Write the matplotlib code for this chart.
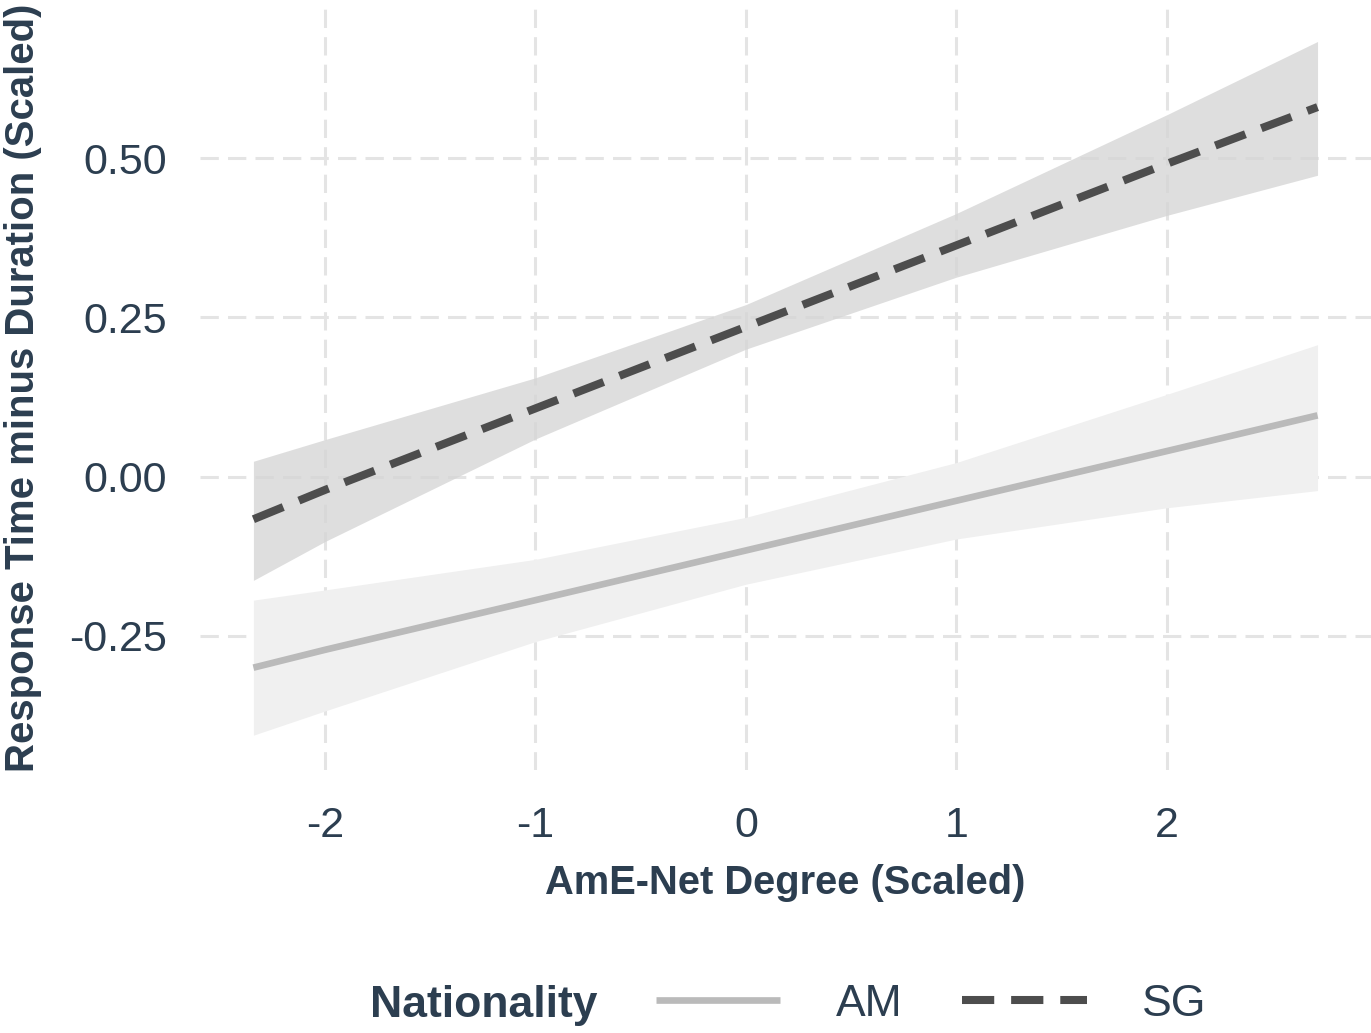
import matplotlib.pyplot as plt
import numpy as np

plt.rcParams['font.family'] = ['Liberation Sans', 'DejaVu Sans']

x = [-2.34, -2, -1, 0, 1, 2, 2.716]

# SG fit and 95% band
sg_fit = [-0.067, -0.021, 0.107, 0.235, 0.363, 0.491, 0.580]
sg_upper = [0.024, 0.058, 0.155, 0.270, 0.413, 0.568, 0.683]
sg_lower = [-0.163, -0.102, 0.059, 0.200, 0.313, 0.410, 0.473]

# AM fit and 95% band
am_fit = [-0.300, -0.272, -0.194, -0.116, -0.038, 0.040, 0.096]
am_upper = [-0.194, -0.178, -0.130, -0.064, 0.022, 0.129, 0.207]
am_lower = [-0.406, -0.368, -0.259, -0.169, -0.098, -0.049, -0.022]

xticks = [-2, -1, 0, 1, 2]
yticks = [-0.25, 0.0, 0.25, 0.5]
ytick_labels = ['-0.25', '0.00', '0.25', '0.50']

txt = '#2c3e50'
grid_col = '#e4e4e4'

fig = plt.figure(figsize=(13.71, 10.33), dpi=100)
ax = fig.add_axes([0.146, 0.255, 0.854, 0.740])

ax.fill_between(x, am_lower, am_upper, color='#f0f0f0', lw=0, zorder=2)
ax.fill_between(x, sg_lower, sg_upper, color='#d6d6d6', alpha=0.8, lw=0, zorder=2)
am_line, = ax.plot(x, am_fit, color='#bababa', lw=4.8, solid_capstyle='butt', zorder=3)
sg_line, = ax.plot(x, sg_fit, color='#4d4d4d', lw=5.8, dashes=(4, 2.1), zorder=3)

ax.set_xlim(-2.593, 2.97)
ax.set_ylim(-0.46, 0.74)
ax.set_xticks(xticks)
ax.set_xticklabels([str(v) for v in xticks])
ax.set_yticks(yticks)
ax.set_yticklabels(ytick_labels)
ax.grid(True, color=grid_col, lw=2.2, dashes=(6, 3), zorder=1)
ax.set_axisbelow(True)
for s in ax.spines.values():
    s.set_visible(False)
ax.tick_params(length=0, labelsize=31, labelcolor=txt)
ax.tick_params(axis='y', pad=24)
ax.tick_params(axis='x', pad=26)

ax.set_xlabel('AmE-Net Degree (Scaled)', fontsize=28.7, fontweight='bold', color=txt)
ax.set_ylabel('Response Time minus Duration (Scaled)', fontsize=28.9, fontweight='bold', color=txt)
ax.xaxis.set_label_coords(0.5, -0.124)
ax.yaxis.set_label_coords(-0.135, 0.5)

fig.text(0.27, 0.027, 'Nationality', fontsize=32, fontweight='bold', color=txt, ha='left', va='center')
leg = fig.legend([am_line, sg_line], ['AM', 'SG'], ncol=2, loc='center left',
                 bbox_to_anchor=(0.449, 0.028), frameon=False, fontsize=32,
                 handlelength=2.8, handletextpad=1.25, columnspacing=1.35)
for t in leg.get_texts():
    t.set_color(txt)

plt.savefig('out.png', dpi=100)
